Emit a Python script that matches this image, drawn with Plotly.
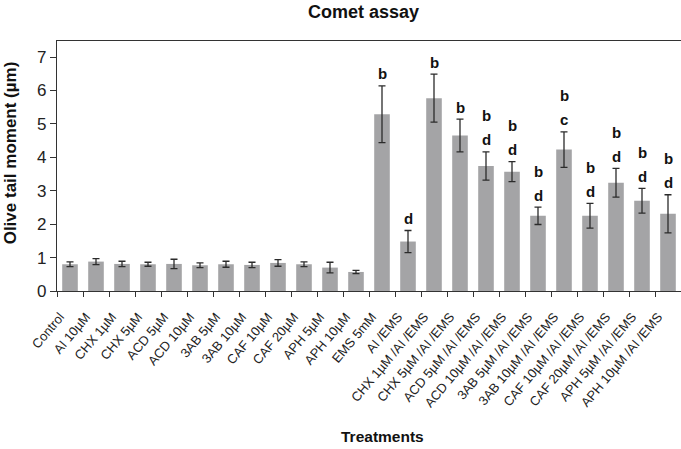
import plotly.graph_objects as go

# treatments and measured olive tail moment (mean, error)
treatments = ["Control", "AI 10µM", "CHX 1µM", "CHX 5µM", "ACD 5µM", "ACD 10µM",
              "3AB 5µM", "3AB 10µM", "CAF 10µM", "CAF 20µM", "APH 5µM", "APH 10µM",
              "EMS 5mM", "AI /EMS", "CHX 1µM /AI /EMS", "CHX 5µM /AI /EMS",
              "ACD 5µM /AI /EMS", "ACD 10µM /AI /EMS", "3AB 5µM /AI /EMS",
              "3AB 10µM /AI /EMS", "CAF 10µM /AI /EMS", "CAF 20µM /AI /EMS",
              "APH 5µM /AI /EMS", "APH 10µM /AI /EMS"]
means = [0.80, 0.88, 0.81, 0.80, 0.81, 0.77, 0.80, 0.78, 0.84, 0.80, 0.70, 0.57,
         5.29, 1.48, 5.77, 4.65, 3.74, 3.57, 2.25, 4.23, 2.25, 3.24, 2.70, 2.31]
errors = [0.07, 0.09, 0.08, 0.06, 0.14, 0.07, 0.09, 0.08, 0.10, 0.07, 0.16, 0.05,
          0.85, 0.33, 0.72, 0.49, 0.42, 0.30, 0.26, 0.53, 0.37, 0.43, 0.37, 0.57]
# significance letters (lower letter, upper letter)
letters_low = ["", "", "", "", "", "", "", "", "", "", "", "",
               "b", "d", "b", "b", "d", "d", "d", "c", "d", "d", "d", "d"]
letters_up = ["", "", "", "", "", "", "", "", "", "", "", "",
              "", "", "", "", "b", "b", "b", "b", "b", "b", "b", "b"]

FONT = "Liberation Sans"

fig = go.Figure()
fig.add_trace(go.Bar(
    x=treatments, y=means,
    marker=dict(color="#a4a4a6", line=dict(width=0)),
    error_y=dict(type="data", array=errors, color="#2b2b2b", thickness=1.3, width=3.5),
    width=0.6,
))

# letters above the error bars
for cat, m, e, lo, up in zip(treatments, means, errors, letters_low, letters_up):
    if lo:
        fig.add_annotation(x=cat, y=m + e, text="<b>%s</b>" % lo, showarrow=False,
                           yanchor="middle", yshift=12,
                           font=dict(family=FONT, size=15, color="#111"))
    if up:
        fig.add_annotation(x=cat, y=m + e, text="<b>%s</b>" % up, showarrow=False,
                           yanchor="middle", yshift=36,
                           font=dict(family=FONT, size=15, color="#111"))

# axis titles and chart title placed as annotations
fig.add_annotation(x=0.521, y=-0.58, xref="paper", yref="paper", text="<b>Treatments</b>",
                   showarrow=False, yanchor="middle", xanchor="center",
                   font=dict(family=FONT, size=15.5, color="#111"))
fig.add_annotation(x=-0.074, y=0.554, xref="paper", yref="paper",
                   text="<b>Olive tail moment (µm)</b>", textangle=-90,
                   showarrow=False, yanchor="middle", xanchor="center",
                   font=dict(family=FONT, size=17, color="#111"))
fig.add_annotation(x=0.491, y=1.114, xref="paper", yref="paper", text="<b>Comet assay</b>",
                   showarrow=False, yanchor="middle", xanchor="center",
                   font=dict(family=FONT, size=18, color="#111"))

fig.update_layout(
    width=681, height=449,
    margin=dict(l=57, r=0, t=41, b=158, autoexpand=False),
    paper_bgcolor="white", plot_bgcolor="white",
    showlegend=False,
    font=dict(family=FONT, color="#222"),
)
fig.update_xaxes(
    tickangle=-50, tickfont=dict(size=13, color="#222"), automargin=False,
    ticklabelstandoff=12, ticklabelshift=-10,
    showline=True, linecolor="#333", linewidth=1.2, mirror=True,
    ticks="outside", tickson="boundaries", ticklen=5, tickcolor="#333",
    showgrid=False,
)
fig.update_yaxes(
    range=[0, 7.48], dtick=1, tickfont=dict(size=17, color="#222"), automargin=False,
    showline=True, linecolor="#333", linewidth=1.2, mirror=True,
    ticks="outside", ticklen=6, tickcolor="#333", showgrid=False, zeroline=False,
)

# drop the default page margin so the figure sits at the window corner
fig.write_html("out.html", config={"displayModeBar": False},
               post_script="document.body.style.margin='0';")
